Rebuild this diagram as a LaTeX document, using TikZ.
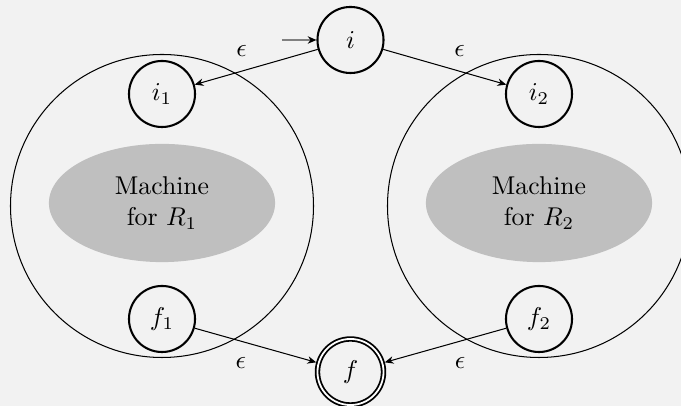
\documentclass[tikz,border=0pt]{standalone}
\usetikzlibrary{shapes.geometric, arrows.meta}
\definecolor{bg}{HTML}{F2F2F2}
\definecolor{machinegray}{HTML}{BFBFBF}
\begin{document}
\begin{tikzpicture}[x=0.3891pt, y=-0.3891pt,
  statenode/.style={circle, draw, line width=0.8pt, minimum size=25.7pt, inner sep=0pt},
  acceptnode/.style={statenode, double, line width=0.7pt, double distance=0.7pt, outer sep=1pt},
  machine/.style={ellipse, fill=machinegray, minimum width=88pt, minimum height=46pt, align=center, inner sep=0pt},
  bigring/.style={circle, draw, line width=0.4pt, minimum size=117.9pt, inner sep=0pt},
  edge/.style={-{Stealth[length=3.4pt,width=2.9pt]}, line width=0.4pt}]
\fill[bg] (0,0) rectangle (681,406);
\useasboundingbox (0,0) rectangle (681,406);
\node[bigring] (ring1) at (162,206) {};
\node[bigring] (ring2) at (539,206) {};
\node[machine] (m1) at (162,203) {Machine\\for $R_1$};
\node[machine] (m2) at (539,203) {Machine\\for $R_2$};
\node[statenode] (i) at (350.5,40) {$i$};
\node[statenode] (i1) at (162,94) {$i_1$};
\node[statenode] (i2) at (539,94) {$i_2$};
\node[statenode] (f1) at (162,319) {$f_1$};
\node[statenode] (f2) at (539,319) {$f_2$};
\node[acceptnode] (f) at (350.5,372) {$f$};
\coordinate (start) at (282,40);
\draw[gray, line width=0.5pt, -{Stealth[length=3.4pt,width=2.9pt,black]}] (start) -- (i);
\draw[edge] (i) -- node[pos=0.62, above=2pt] {$\epsilon$} (i1);
\draw[edge] (i) -- node[pos=0.62, above=2pt] {$\epsilon$} (i2);
\draw[edge] (f1) -- node[pos=0.38, below=2.7pt] {$\epsilon$} (f);
\draw[edge] (f2) -- node[pos=0.38, below=2.7pt] {$\epsilon$} (f);
\end{tikzpicture}
\end{document}
